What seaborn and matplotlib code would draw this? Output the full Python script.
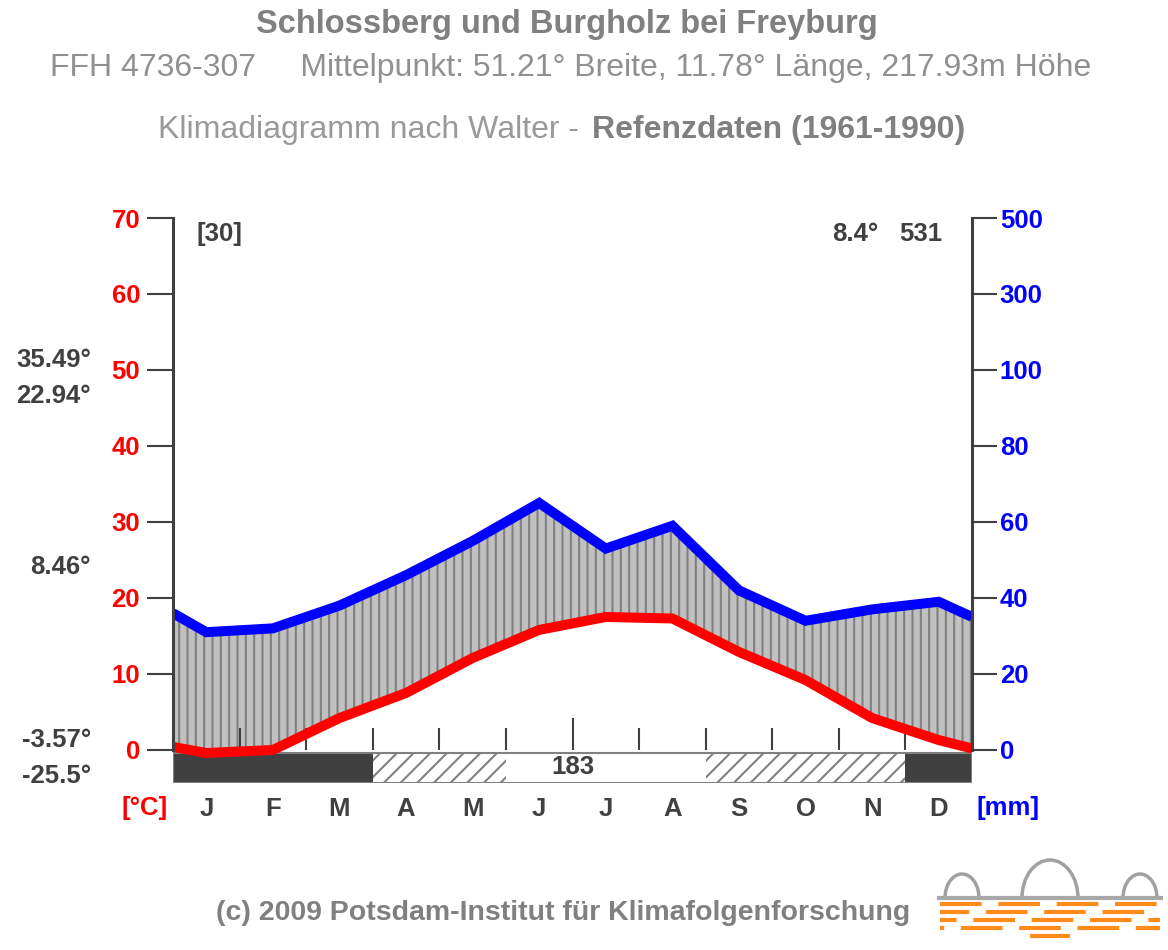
import matplotlib
matplotlib.use('Agg')
import numpy as np
import pandas as pd
import matplotlib.pyplot as plt
import seaborn as sns
from matplotlib.patches import Rectangle, Arc

# monthly values
months = ['J', 'F', 'M', 'A', 'M', 'J', 'J', 'A', 'S', 'O', 'N', 'D']
temp = [-0.4, 0.0, 4.2, 7.5, 12.1, 15.8, 17.5, 17.3, 12.9, 9.2, 4.2, 1.3]
precip = [31, 32, 38, 46, 55, 65, 53, 59, 42, 34, 37, 39]
temp_edges = [0.4, 0.2]      # value drawn at 1 Jan / 31 Dec
precip_edges = [36, 35]

temp_ticks = [0, 10, 20, 30, 40, 50, 60, 70]
precip_ticklabels = ['0', '20', '40', '60', '80', '100', '300', '500']

# frost bar: (kind, start month, end month)
frost_bar = [('frost', 0, 3), ('maybe', 3, 5), ('free', 5, 8), ('maybe', 8, 11), ('frost', 11, 12)]
frost_free_days = '183'

side_labels = ['35.49°', '22.94°', '8.46°', '-3.57°', '-25.5°']
side_label_y = [360, 396, 567, 740, 776]

DARK = '#404040'
GRAY = '#808080'
FS = 18.5

df = pd.DataFrame({
    'x': [0] + [i + 0.5 for i in range(12)] + [12],
    'temp': [temp_edges[0]] + temp + [temp_edges[1]],
    'prec': [precip_edges[0]] + precip + [precip_edges[1]],
})
df['prec_scaled'] = df['prec'] / 2.0   # 10 degC = 20 mm

sns.set_style('white')
plt.rcParams['font.family'] = ['Liberation Sans', 'DejaVu Sans']
plt.rcParams['hatch.linewidth'] = 1.5

W, H = 1168, 950
fig = plt.figure(figsize=(W / 100, H / 100), dpi=100)
ax = fig.add_axes([173 / W, (H - 783.4) / H, 799 / W, 565.4 / H])
ax.set_xlim(0, 12)
ax.set_ylim(-4.4, 70)

# humid period
ax.fill_between(df['x'], df['temp'], df['prec_scaled'], where=df['prec_scaled'] >= df['temp'],
                interpolate=True, facecolor='#c0c0c0', edgecolor=GRAY, hatch='||',
                linewidth=0, zorder=1)

# frost bar below zero
for kind, a, b in frost_bar:
    if kind == 'frost':
        ax.add_patch(Rectangle((a, -4.3), b - a, 3.95, facecolor=DARK, edgecolor='none', zorder=2))
    elif kind == 'maybe':
        ax.add_patch(Rectangle((a, -4.3), b - a, 3.95, facecolor='white', edgecolor=GRAY,
                               hatch='//', linewidth=0, zorder=2))
ax.add_patch(Rectangle((0, -4.3), 12, 3.95, fill=False, edgecolor=GRAY, linewidth=1.5, zorder=2.2))
ax.text(6.0, -2.3, frost_free_days, ha='center', va='center', fontsize=FS,
        fontweight='bold', color=DARK, zorder=4)

# month boundary marks
mark_h = [4.2 if m == 6 else 2.9 for m in range(1, 12)]
ax.vlines(range(1, 12), 0, mark_h, color=DARK, linewidth=1.5, zorder=2.5)

sns.lineplot(data=df, x='x', y='prec_scaled', color='#0000ff', linewidth=7.2, ax=ax,
             zorder=3, solid_joinstyle='miter', solid_capstyle='butt')
sns.lineplot(data=df, x='x', y='temp', color='#ff0000', linewidth=7.2, ax=ax,
             zorder=3, solid_joinstyle='miter', solid_capstyle='butt')

# axes styling
for s in ['top', 'bottom', 'right']:
    ax.spines[s].set_visible(False)
ax.spines['left'].set_bounds(0, 70)
ax.spines['left'].set_color(DARK)
ax.spines['left'].set_linewidth(2.2)
ax.spines['left'].set_zorder(5)
ax.set_yticks(temp_ticks)
ax.tick_params(axis='y', length=18.7, width=1.5, color=DARK, labelcolor='#ff0000',
               labelsize=FS, pad=5)
for lbl in ax.get_yticklabels():
    lbl.set_fontweight('bold')
ax.set_xticks([i + 0.5 for i in range(12)])
ax.set_xticklabels(months, fontsize=FS, fontweight='bold', color=DARK)
ax.tick_params(axis='x', length=0, pad=10)
ax.set_xlabel('')
ax.set_ylabel('')

ax2 = ax.twinx()
ax2.set_ylim(ax.get_ylim())
for s in ['top', 'bottom', 'left']:
    ax2.spines[s].set_visible(False)
ax2.spines['right'].set_bounds(0, 70)
ax2.spines['right'].set_color(DARK)
ax2.spines['right'].set_linewidth(2.2)
ax2.set_yticks(temp_ticks)
ax2.set_yticklabels(precip_ticklabels)
ax2.tick_params(axis='y', length=18, width=1.5, color=DARK, labelcolor='#0000ff',
                labelsize=FS, pad=2)
for lbl in ax2.get_yticklabels():
    lbl.set_fontweight('bold')


def ftext(px, py, s, **kw):
    return fig.text(px / W, 1 - py / H, s, **kw)


# header
ftext(567, 25, 'Schlossberg und Burgholz bei Freyburg', ha='center', va='center',
      fontsize=23.5, fontweight='bold', color=GRAY)
ftext(571, 68, 'FFH 4736-307     Mittelpunkt: 51.21° Breite, 11.78° Länge, 217.93m Höhe',
      ha='center', va='center', fontsize=23, color='#909090')
ftext(588, 130, 'Klimadiagramm nach Walter - ', ha='right', va='center', fontsize=23,
      color='#999999')
ftext(592, 130, 'Refenzdaten (1961-1990)', ha='left', va='center', fontsize=23,
      fontweight='bold', color=GRAY)

# annotations
ftext(220, 234, '[30]', ha='center', va='center', fontsize=FS, fontweight='bold', color=DARK)
ftext(855, 234, '8.4°', ha='center', va='center', fontsize=FS, fontweight='bold', color=DARK)
ftext(921, 234, '531', ha='center', va='center', fontsize=FS, fontweight='bold', color=DARK)
for s, py in zip(side_labels, side_label_y):
    ftext(91, py, s, ha='right', va='center', fontsize=FS, fontweight='bold', color=DARK)
ftext(145, 808, '[°C]', ha='center', va='center', fontsize=FS, fontweight='bold', color='#ff0000')
ftext(1008, 808, '[mm]', ha='center', va='center', fontsize=FS, fontweight='bold', color='#0000ff')

# footer
ftext(563, 913, '(c) 2009 Potsdam-Institut für Klimafolgenforschung', ha='center', va='center',
      fontsize=20.5, fontweight='bold', color=GRAY)

# logo
lg = fig.add_axes([930 / W, 0, 238 / W, 95 / H])
lg.set_xlim(930, 1168)
lg.set_ylim(0, 95)
lg.axis('off')
for cx, w, h in [(962, 34, 48), (1050, 56, 76), (1140, 34, 48)]:
    lg.add_patch(Arc((cx, 52), w, h, theta1=0, theta2=180, color='#a0a0a0', linewidth=2.5))
lg.hlines(52, 937, 1163, color='#a8a8a8', linewidth=3)
for i, py in enumerate([46, 38, 30, 22]):
    lg.hlines(py, 940, 1160, color='#ff8c1a', linewidth=3, linestyles=(i * 3, (10, 4)))
lg.hlines(14, 1030, 1070, color='#ff8c1a', linewidth=3, linestyles=(0, (10, 4)))

fig.savefig('out.png', dpi=100, facecolor='white')
